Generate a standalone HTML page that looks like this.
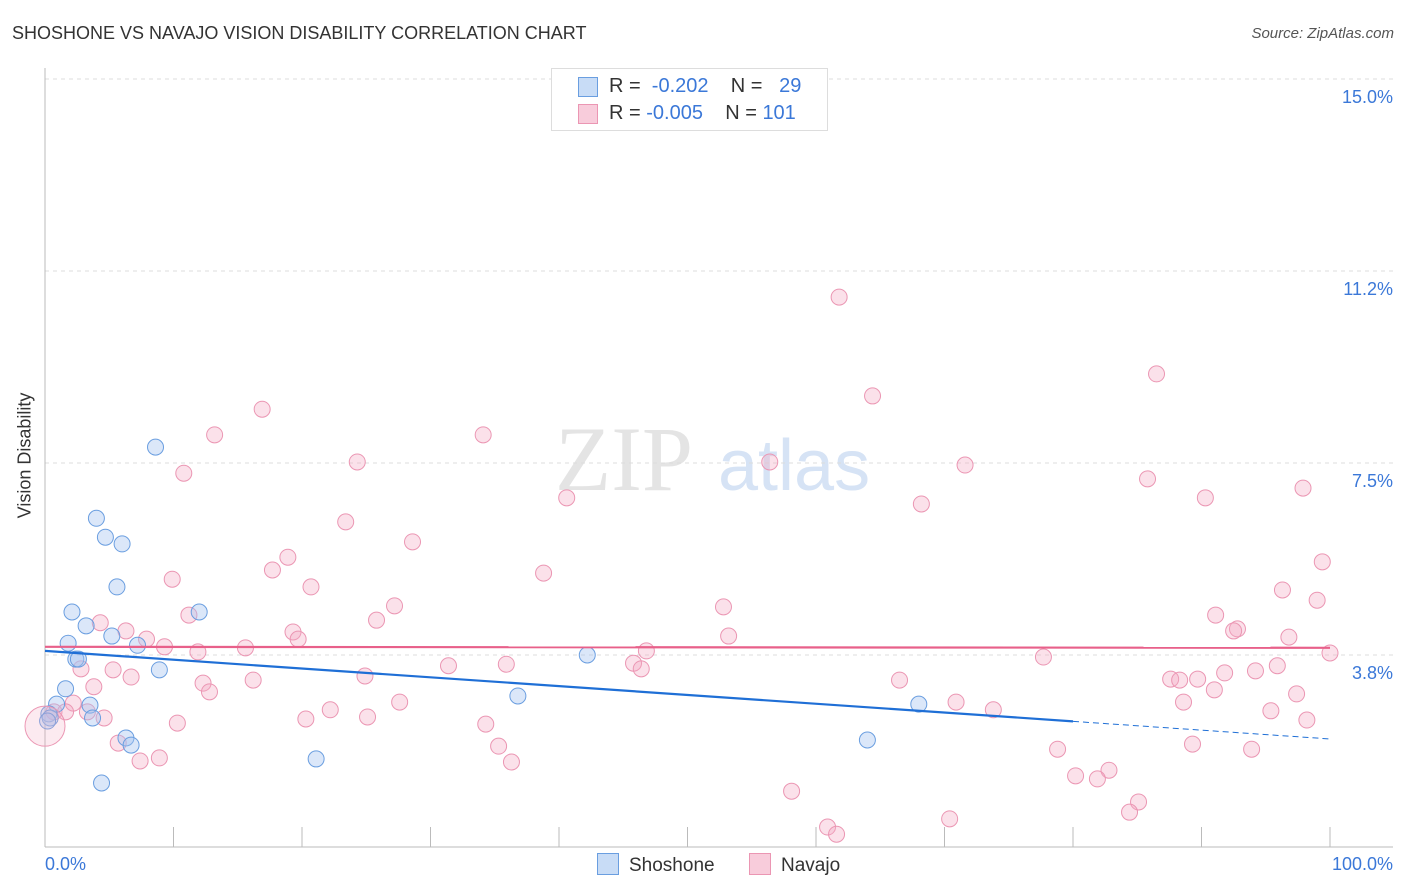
<!DOCTYPE html>
<html><head><meta charset="utf-8"><style>
body{margin:0;background:#fff;font-family:"Liberation Sans",sans-serif;}
#wrap{position:relative;width:1406px;height:892px;overflow:hidden}
.t{position:absolute;white-space:nowrap}
</style></head><body>
<div id="wrap">
<div class="t" style="left:12px;top:23px;font-size:18px;color:#333">SHOSHONE VS NAVAJO VISION DISABILITY CORRELATION CHART</div>
<div class="t" style="right:12px;top:25px;font-size:15px;color:#555;font-style:italic">Source: ZipAtlas.com</div>
<div class="t" style="left:-38px;top:445px;font-size:18px;color:#333;transform:rotate(-90deg)">Vision Disability</div>
<svg id="svg" width="1406" height="892" style="position:absolute;left:0;top:0"></svg>
</div>
<script>
const shoX=[8.6,4.0,4.7,6.0,5.6,2.1,12.0,3.2,5.2,1.8,7.2,2.4,2.6,8.9,1.6,0.9,3.5,0.3,0.4,3.7,6.3,6.7,4.4,21.1,42.2,36.8,68.0,64.0,0.2];
const shoY=[7.81,6.42,6.05,5.92,5.08,4.59,4.59,4.32,4.12,3.98,3.94,3.67,3.67,3.46,3.09,2.79,2.77,2.60,2.52,2.52,2.13,1.99,1.25,1.72,3.75,2.95,2.79,2.09,2.46];
const navX=[61.8,86.5,64.4,16.9,13.2,34.1,24.3,56.4,71.6,10.8,85.8,97.9,40.6,90.3,68.2,23.4,28.6,18.9,99.4,17.7,38.8,9.9,20.7,96.3,99.0,27.2,52.8,11.2,91.1,25.8,4.3,92.8,92.5,6.3,19.3,19.7,53.2,96.8,7.9,9.3,15.6,46.8,11.9,100,77.7,45.8,31.4,35.9,2.8,46.4,5.3,95.9,94.2,91.8,24.9,6.7,87.6,89.7,88.3,16.2,66.5,12.3,3.8,12.8,91.0,97.4,27.6,70.9,88.6,2.2,73.8,22.2,95.4,0.7,1.6,3.3,4.6,25.1,20.3,98.2,10.3,34.3,5.7,89.3,35.3,78.8,93.9,7.4,8.9,36.3,82.8,80.2,81.9,58.1,85.1,84.4,70.4,60.9,61.6];
const navY=[10.74,9.24,8.81,8.55,8.05,8.05,7.52,7.52,7.46,7.30,7.19,7.01,6.82,6.82,6.70,6.35,5.96,5.66,5.57,5.41,5.35,5.23,5.08,5.02,4.82,4.71,4.69,4.53,4.53,4.43,4.38,4.26,4.22,4.22,4.20,4.06,4.12,4.10,4.06,3.91,3.89,3.83,3.81,3.79,3.71,3.59,3.54,3.57,3.48,3.48,3.46,3.54,3.44,3.40,3.34,3.32,3.28,3.28,3.26,3.26,3.26,3.20,3.13,3.03,3.07,2.99,2.83,2.83,2.83,2.81,2.68,2.68,2.66,2.64,2.64,2.64,2.52,2.54,2.50,2.48,2.42,2.40,2.03,2.01,1.97,1.91,1.91,1.68,1.74,1.66,1.50,1.39,1.33,1.09,0.88,0.68,0.55,0.39,0.25];
const yTicks=[3.75,7.5,11.25,15];
const yTickLabels=["3.8%","7.5%","11.2%","15.0%"];
const shoTrend=[3.83,2.11]; // value at x=0 and x=100
const navTrend=[3.91,3.89];
const shoSolidEnd=80;

const NS="http://www.w3.org/2000/svg";
const svg=document.getElementById('svg');
const X0=45,X1=1330,Y0=847,PXPER=51.2;
const sx=v=>X0+(X1-X0)*v/100, sy=v=>Y0-v*PXPER;
function mk(tag,attrs,parent){const e=document.createElementNS(NS,tag);for(const k in attrs)e.setAttribute(k,attrs[k]);(parent||svg).appendChild(e);return e;}

// watermark
let w=mk('text',{x:555,y:490,'font-size':92,fill:'#e4e4e4','font-family':'Liberation Serif,serif'});w.textContent='ZIP';


let w2=mk('text',{x:718,y:490,'font-size':72,fill:'#d6e3f5','font-family':'Liberation Sans,sans-serif'});w2.textContent='atlas';



// gridlines + y labels
yTicks.forEach((t,i)=>{
 const g=mk('line',{x1:X0,x2:1393,y1:sy(t),y2:sy(t),stroke:'#dcdcdc','stroke-dasharray':'4,4'});
 
 
 const l=mk('text',{x:1393,y:sy(t)+24,'text-anchor':'end','font-size':18,fill:'#3b78d8','font-family':'Liberation Sans,sans-serif'});
 l.textContent=yTickLabels[i];
 
 
});
// axes
let ax=mk('line',{x1:X0,x2:X0,y1:68,y2:Y0,stroke:'#bbb'});


let ax2=mk('line',{x1:X0,x2:1393,y1:Y0,y2:Y0,stroke:'#bbb'});


for(let i=1;i<=10;i++){const tk=mk('line',{x1:sx(i*10),x2:sx(i*10),y1:827,y2:Y0,stroke:'#bbb'});
 
 }
[['0.0%',45,'start'],['100.0%',1393,'end']].forEach(a=>{const t=mk('text',{x:a[1],y:870,'text-anchor':a[2],'font-size':18,fill:'#3b78d8','font-family':'Liberation Sans,sans-serif'});t.textContent=a[0];
 
 });

// points
navX.forEach((x,i)=>{const c=mk('circle',{cx:sx(x),cy:sy(navY[i]),r:8,fill:'rgba(244,170,195,0.35)',stroke:'#eb96b3','stroke-width':1});
 
 });
shoX.forEach((x,i)=>{const c=mk('circle',{cx:sx(x),cy:sy(shoY[i]),r:8,fill:'rgba(164,196,240,0.4)',stroke:'#6a9ee0','stroke-width':1});
 
 });
let big=mk('circle',{cx:sx(0),cy:sy(2.36),r:20,fill:'rgba(244,170,195,0.25)',stroke:'#eb96b3','stroke-width':1});



// trends
const st=v=>shoTrend[0]+(shoTrend[1]-shoTrend[0])*v/100;
let l1=mk('line',{x1:sx(0),y1:sy(st(0)),x2:sx(shoSolidEnd),y2:sy(st(shoSolidEnd)),stroke:'#1f6fd6','stroke-width':2.2});


let l2=mk('line',{x1:sx(shoSolidEnd),y1:sy(st(shoSolidEnd)),x2:sx(100),y2:sy(st(100)),stroke:'#1f6fd6','stroke-width':1,'stroke-dasharray':'6,4'});


let l3=mk('line',{x1:sx(0),y1:sy(navTrend[0]),x2:sx(100),y2:sy(navTrend[1]),stroke:'#e8608a','stroke-width':2.2});


</script>
<div class="t" style="left:551px;top:68px;width:275px;height:61px;border:1px solid #ddd;background:#fff;font-size:20px;color:#333">
 <div style="position:absolute;left:26px;top:8px;width:18px;height:18px;background:rgba(164,196,240,0.6);border:1px solid #6a9ee0"></div>
 <div class="t" style="left:57px;top:6px">R = <span style="color:#3b78d8">&nbsp;-0.202</span>&nbsp;&nbsp;&nbsp;&nbsp;N = <span style="color:#3b78d8">&nbsp;&nbsp;29</span></div>
 <div style="position:absolute;left:26px;top:35px;width:18px;height:18px;background:rgba(244,170,195,0.6);border:1px solid #eb96b3"></div>
 <div class="t" style="left:57px;top:33px">R = <span style="color:#3b78d8">-0.005</span>&nbsp;&nbsp;&nbsp;&nbsp;N = <span style="color:#3b78d8">101</span></div>
</div>
<div class="t" style="left:597px;top:853px;font-size:19px;color:#333"><span style="display:inline-block;width:20px;height:20px;background:rgba(164,196,240,0.6);border:1px solid #6a9ee0;vertical-align:-4px;margin-right:10px"></span>Shoshone</div>
<div class="t" style="left:749px;top:853px;font-size:19px;color:#333"><span style="display:inline-block;width:20px;height:20px;background:rgba(244,170,195,0.6);border:1px solid #eb96b3;vertical-align:-4px;margin-right:10px"></span>Navajo</div>
</body></html>
